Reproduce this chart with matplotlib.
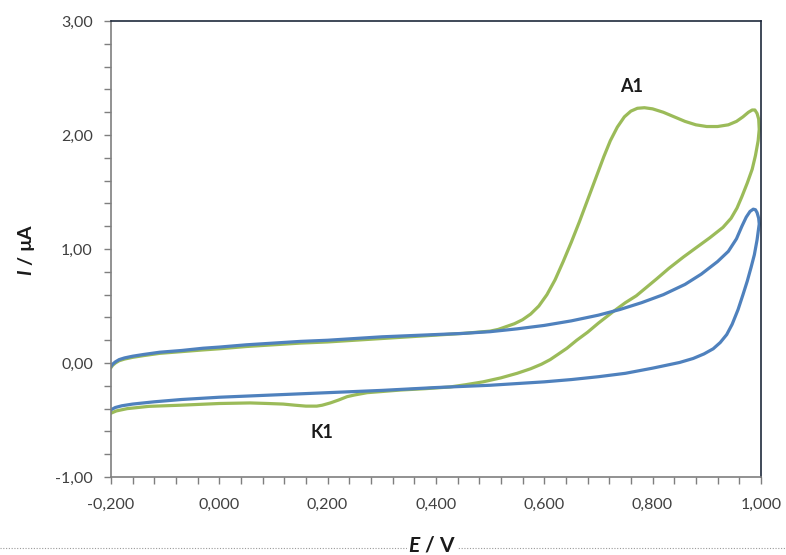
import matplotlib
matplotlib.use("Agg")
import matplotlib.pyplot as plt
from matplotlib.ticker import MultipleLocator, FuncFormatter
from matplotlib.lines import Line2D

plt.rcParams['font.family'] = ['Lato', 'DejaVu Sans']
plt.rcParams['mathtext.fontset'] = 'custom'
plt.rcParams['mathtext.bfit'] = 'Lato:italic:bold'
plt.rcParams['mathtext.it'] = 'Lato:italic'

# Blue CV: forward scan (upper branch)
blue_fwd_E = [-0.200, -0.197, -0.192, -0.185, -0.175, -0.160, -0.140, -0.110, -0.070, -0.030,
              0.000, 0.050, 0.100, 0.150, 0.200, 0.250, 0.300, 0.350, 0.400, 0.450,
              0.500, 0.550, 0.600, 0.650, 0.700, 0.740, 0.780, 0.820, 0.860, 0.890,
              0.920, 0.940, 0.955, 0.965, 0.973, 0.980, 0.986, 0.990, 0.993, 0.996]
blue_fwd_I = [-0.03, -0.01, 0.01, 0.03, 0.045, 0.06, 0.075, 0.095, 0.11, 0.13,
              0.14, 0.16, 0.175, 0.19, 0.20, 0.215, 0.23, 0.24, 0.25, 0.26,
              0.275, 0.30, 0.33, 0.37, 0.42, 0.47, 0.53, 0.60, 0.69, 0.78,
              0.89, 0.98, 1.09, 1.20, 1.28, 1.33, 1.35, 1.345, 1.32, 1.27]
# Blue CV: reverse scan (lower branch)
blue_rev_E = [0.997, 0.995, 0.993, 0.988, 0.982, 0.975, 0.967, 0.958, 0.947, 0.937,
              0.925, 0.912, 0.895, 0.875, 0.850, 0.825, 0.800, 0.750, 0.700, 0.650,
              0.600, 0.500, 0.400, 0.300, 0.200, 0.100, 0.000, -0.070, -0.120, -0.160,
              -0.180, -0.192, -0.200]
blue_rev_I = [1.22, 1.15, 1.08, 0.95, 0.84, 0.72, 0.60, 0.47, 0.34, 0.25,
              0.18, 0.125, 0.08, 0.04, 0.005, -0.02, -0.045, -0.09, -0.12, -0.145,
              -0.165, -0.195, -0.215, -0.24, -0.26, -0.28, -0.30, -0.32, -0.34, -0.36,
              -0.375, -0.39, -0.41]

# Green CV: forward scan (upper branch, A1 peak)
green_fwd_E = [-0.200, -0.197, -0.192, -0.185, -0.175, -0.160, -0.140, -0.110, -0.070, -0.030,
               0.000, 0.050, 0.100, 0.150, 0.200, 0.250, 0.300, 0.350, 0.400, 0.450,
               0.500, 0.515, 0.530, 0.545, 0.560, 0.575, 0.590, 0.605, 0.620, 0.635,
               0.650, 0.665, 0.680, 0.695, 0.710, 0.722, 0.735, 0.748, 0.760, 0.772,
               0.785, 0.800, 0.820, 0.840, 0.860, 0.880, 0.900, 0.920, 0.940, 0.955,
               0.967, 0.977, 0.984, 0.989, 0.993, 0.996]
green_fwd_I = [-0.04, -0.02, 0.00, 0.02, 0.035, 0.05, 0.065, 0.085, 0.10, 0.115,
               0.125, 0.145, 0.16, 0.175, 0.185, 0.20, 0.215, 0.23, 0.245, 0.26,
               0.28, 0.295, 0.32, 0.345, 0.38, 0.43, 0.50, 0.60, 0.73, 0.89,
               1.06, 1.24, 1.43, 1.62, 1.81, 1.95, 2.07, 2.16, 2.21, 2.235,
               2.24, 2.23, 2.20, 2.16, 2.12, 2.09, 2.075, 2.075, 2.09, 2.12,
               2.16, 2.20, 2.22, 2.22, 2.19, 2.14]
# Green CV: reverse scan (lower branch, K1 peak)
green_rev_E = [0.997, 0.995, 0.990, 0.984, 0.975, 0.965, 0.956, 0.945, 0.930, 0.906,
               0.880, 0.857, 0.830, 0.808, 0.770, 0.750, 0.727, 0.700, 0.680, 0.660,
               0.642, 0.625, 0.611, 0.595, 0.575, 0.550, 0.520, 0.487, 0.455, 0.426,
               0.380, 0.334, 0.300, 0.273, 0.250, 0.236, 0.220, 0.205, 0.190, 0.180,
               0.160, 0.140, 0.118, 0.090, 0.057, 0.000, -0.072, -0.130, -0.170, -0.190,
               -0.200]
green_rev_I = [2.05, 1.95, 1.82, 1.70, 1.58, 1.46, 1.36, 1.27, 1.19, 1.10,
               1.01, 0.93, 0.83, 0.74, 0.59, 0.53, 0.45, 0.35, 0.27, 0.20,
               0.13, 0.075, 0.03, -0.01, -0.05, -0.09, -0.13, -0.165, -0.19, -0.21,
               -0.225, -0.237, -0.25, -0.26, -0.28, -0.295, -0.325, -0.35, -0.37, -0.378,
               -0.378, -0.37, -0.36, -0.355, -0.35, -0.355, -0.37, -0.38, -0.40, -0.42,
               -0.44]

fig = plt.figure(figsize=(7.86, 5.55), dpi=100)
ax = fig.add_axes([0.1412, 0.1405, 0.8268, 0.8215])

ax.plot(green_fwd_E + green_rev_E, green_fwd_I + green_rev_I, color='#9BBB59', lw=2.3,
        solid_joinstyle='round')
ax.plot(blue_fwd_E + blue_rev_E, blue_fwd_I + blue_rev_I, color='#4F81BD', lw=2.3,
        solid_joinstyle='round')

ax.set_xlim(-0.2, 1.0)
ax.set_ylim(-1.0, 3.0)
ax.xaxis.set_major_locator(MultipleLocator(0.2))
ax.xaxis.set_minor_locator(MultipleLocator(0.04))
ax.yaxis.set_major_locator(MultipleLocator(1.0))
ax.yaxis.set_minor_locator(MultipleLocator(0.2))
ax.xaxis.set_major_formatter(FuncFormatter(lambda v, p: f"{v:.3f}".replace('.', ',')))
ax.yaxis.set_major_formatter(FuncFormatter(lambda v, p: f"{v:.2f}".replace('.', ',')))

for s in ['left', 'bottom']:
    ax.spines[s].set_color('#7f7f7f')
    ax.spines[s].set_linewidth(1.2)
for s in ['top', 'right']:
    ax.spines[s].set_color('#1f2a3c')
    ax.spines[s].set_linewidth(1.2)

ax.tick_params(which='both', direction='out', length=5, width=1, color='#7f7f7f',
               labelsize=11.5, labelcolor='#404040', top=False, right=False)
ax.tick_params(axis='x', pad=10)
ax.tick_params(axis='y', pad=8)

ax.text(0.762, 2.43, 'A1', fontsize=13, fontweight='bold', ha='center', va='center', color='#1a1a1a')
ax.text(0.19, -0.61, 'K1', fontsize=13, fontweight='bold', ha='center', va='center', color='#1a1a1a')

fig.text(0.034, 0.55, r'$\mathbfit{I}$ / µA', rotation=90, fontsize=14, fontweight='bold',
         ha='center', va='center', color='#1a1a1a')

fig.add_artist(Line2D([0, 1], [0.0126, 0.0126], transform=fig.transFigure,
                      linestyle=(0, (1, 1.5)), color='#9a9a9a', lw=0.8))
fig.text(0.55, 0.036, r'$\mathbfit{E}$ / V', fontsize=15, fontweight='bold',
         ha='center', va='top', color='#1a1a1a',
         bbox=dict(facecolor='white', edgecolor='none', pad=1))

fig.savefig('out.png', dpi=100)
